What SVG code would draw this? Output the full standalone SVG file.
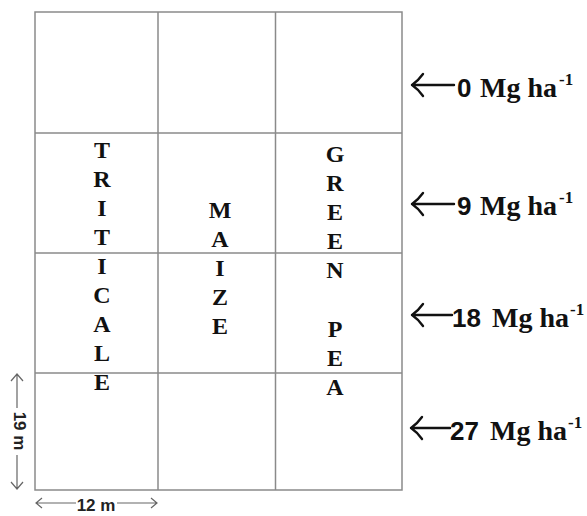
<svg xmlns="http://www.w3.org/2000/svg" width="587" height="516" viewBox="0 0 587 516">
<style>
.grid{fill:none;stroke:#8a8a8a;stroke-width:1.5}
.crop{font-family:"Liberation Serif",serif;font-weight:bold;font-size:24px;fill:#111;text-anchor:middle}
.num{font-family:"Liberation Sans",sans-serif;font-weight:bold;font-size:26px;fill:#111}
.unit{font-family:"Liberation Serif",serif;font-weight:bold;font-size:28px;fill:#111}
.sup{font-family:"Liberation Serif",serif;font-weight:bold;font-size:17px;fill:#111}
.arr{fill:none;stroke:#111;stroke-width:2.4;stroke-linecap:round;stroke-linejoin:round}
.dim{fill:none;stroke:#666;stroke-width:1.2}
.dimt{font-family:"Liberation Sans",sans-serif;font-weight:bold;font-size:17px;fill:#222;text-anchor:middle}
</style>
<g id="grid">
<rect class="grid" x="35" y="12" width="367" height="478"/>
<line class="grid" x1="158" y1="12" x2="158" y2="490"/>
<line class="grid" x1="275.5" y1="12" x2="275.5" y2="490"/>
<line class="grid" x1="35" y1="133" x2="402" y2="133"/>
<line class="grid" x1="35" y1="253" x2="402" y2="253"/>
<line class="grid" x1="35" y1="373" x2="402" y2="373"/>
</g>
<g id="triticale">
<text class="crop" x="102" y="158">T</text>
<text class="crop" x="102" y="187">R</text>
<text class="crop" x="102" y="216">I</text>
<text class="crop" x="102" y="245">T</text>
<text class="crop" x="102" y="274">I</text>
<text class="crop" x="102" y="303">C</text>
<text class="crop" x="102" y="332">A</text>
<text class="crop" x="102" y="361">L</text>
<text class="crop" x="102" y="390">E</text>
</g>
<g id="maize">
<text class="crop" x="220" y="218">M</text>
<text class="crop" x="220" y="247">A</text>
<text class="crop" x="220" y="276">I</text>
<text class="crop" x="220" y="305">Z</text>
<text class="crop" x="220" y="334">E</text>
</g>
<g id="greenpea">
<text class="crop" x="335" y="162">G</text>
<text class="crop" x="335" y="191">R</text>
<text class="crop" x="335" y="220">E</text>
<text class="crop" x="335" y="249">E</text>
<text class="crop" x="335" y="278">N</text>
<text class="crop" x="335" y="337">P</text>
<text class="crop" x="335" y="366">E</text>
<text class="crop" x="335" y="395">A</text>
</g>
<g id="connectors">
<path class="arr" d="M412,85 H454 M423,74 Q418,81 412,85 Q418,89 423,96"/>
<path class="arr" d="M412,204 H454 M423,193 Q418,200 412,204 Q418,208 423,215"/>
<path class="arr" d="M412,315 H452 M423,304 Q418,311 412,315 Q418,319 423,326"/>
<path class="arr" d="M411,428 H450 M422,417 Q417,424 411,428 Q417,432 422,439"/>
<path class="dim" d="M17,374 V408 M17,455 V489 M11,381 L17,374 L23,381 M11,482 L17,489 L23,482"/>
<path class="dim" d="M36,503 H76 M117,503 H157 M42,498 L36,503 L42,508 M151,498 L157,503 L151,508"/>
</g>
<g id="label-0">
<text class="num" x="457" y="97">0</text>
<text class="unit" x="480" y="97">Mg ha</text>
<text class="sup" x="559" y="85">-1</text>
</g>
<g id="label-9">
<text class="num" x="457" y="215">9</text>
<text class="unit" x="480" y="215">Mg ha</text>
<text class="sup" x="559" y="203">-1</text>
</g>
<g id="label-18">
<text class="num" x="452" y="327">18</text>
<text class="unit" x="492" y="327">Mg ha</text>
<text class="sup" x="570" y="315">-1</text>
</g>
<g id="label-27">
<text class="num" x="450" y="440">27</text>
<text class="unit" x="490" y="440">Mg ha</text>
<text class="sup" x="568" y="428">-1</text>
</g>
<g id="dim-19">
<text class="dimt" transform="translate(14,431) rotate(90)">19 m</text>
</g>
<g id="dim-12">
<text class="dimt" x="96" y="511">12 m</text>
</g>
</svg>
